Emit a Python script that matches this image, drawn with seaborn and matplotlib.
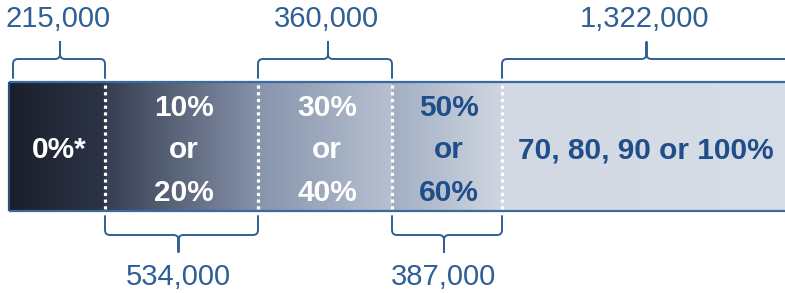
import matplotlib.pyplot as plt
import numpy as np
import seaborn as sns
from matplotlib.colors import LinearSegmentedColormap
from matplotlib.patches import PathPatch
from matplotlib.path import Path

# data
bands = ["0%*", "10%\nor\n20%", "30%\nor\n40%", "50%\nor\n60%", "70, 80, 90 or 100%"]
counts = [215000, 534000, 360000, 387000, 1322000]
count_labels = [f"{c:,}" for c in counts]

# layout (pixel units, figure is 785x293)
SEG_WIDTHS = [96, 153, 134, 110, 283]
BAR_LEFT = 9
BAR_TOP, BAR_BOTTOM = 82, 211
BRACKET_SIDE = ["top", "bottom", "top", "bottom", "top"]
SEG_COLORS = [
    ("#1b1f2b", "#2c3446"),
    ("#353e51", "#8692a9"),
    ("#8794ac", "#b6c0d0"),
    ("#a2aec2", "#cfd6e0"),
    ("#d3d9e3", "#d7dde7"),
]
TEXT_COLORS = ["white", "white", "white", "#1f4e8a", "#1f4e8a"]
BLUE = "#2f5f95"


def bracket(ax, x0, x1, xm, y_end, y_bar, y_tip, r=5):
    d = -1 if y_tip < y_bar else 1
    verts = [
        (x0, y_end), (x0, y_bar - d * r),
        (x0, y_bar), (x0 + r, y_bar),
        (xm - r, y_bar),
        (xm, y_bar), (xm, y_bar + d * r),
        (xm, y_tip),
        (xm, y_bar + d * r),
        (xm, y_bar), (xm + r, y_bar),
        (x1 - r, y_bar),
        (x1, y_bar), (x1, y_bar - d * r),
        (x1, y_end),
    ]
    codes = [Path.MOVETO, Path.LINETO,
             Path.CURVE3, Path.CURVE3,
             Path.LINETO,
             Path.CURVE3, Path.CURVE3,
             Path.LINETO,
             Path.LINETO,
             Path.CURVE3, Path.CURVE3,
             Path.LINETO,
             Path.CURVE3, Path.CURVE3,
             Path.LINETO]
    ax.add_patch(PathPatch(Path(verts, codes), fill=False, edgecolor=BLUE,
                           lw=1.4, capstyle="round", joinstyle="round"))


sns.set_theme(style="white")
plt.rcParams["font.family"] = ["Liberation Sans", "DejaVu Sans"]

fig = plt.figure(figsize=(7.85, 2.93), dpi=100)
ax = fig.add_axes([0, 0, 1, 1])

lefts = BAR_LEFT + np.concatenate([[0], np.cumsum(SEG_WIDTHS)[:-1]])
bar_y = (BAR_TOP + BAR_BOTTOM) / 2
bars = ax.barh([bar_y] * len(bands), SEG_WIDTHS, left=lefts,
               height=BAR_BOTTOM - BAR_TOP, color=[c[1] for c in SEG_COLORS],
               linewidth=0, zorder=1)

grad = np.linspace(0, 1, 256).reshape(1, -1)
for patch, (c0, c1) in zip(bars.patches, SEG_COLORS):
    x0 = patch.get_x()
    x1 = x0 + patch.get_width()
    cmap = LinearSegmentedColormap.from_list("seg", [c0, c1])
    im = ax.imshow(grad, cmap=cmap, aspect="auto", extent=(x0, x1, BAR_BOTTOM, BAR_TOP),
                   zorder=2, interpolation="bilinear")
    im.set_clip_path(patch)

ax.set_xlim(0, 785)
ax.set_ylim(293, 0)
ax.axis("off")

# frame of the bar
ax.hlines([BAR_TOP, BAR_BOTTOM], BAR_LEFT, 785, color="#3a6aa0", lw=1.6, zorder=3)
ax.vlines(BAR_LEFT, BAR_TOP, BAR_BOTTOM, color="#2a4f7a", lw=1.6, zorder=3)

# dotted separators
for x in lefts[1:]:
    ax.plot([x, x], [BAR_TOP + 3, BAR_BOTTOM - 2], color="white", lw=2.3,
            linestyle=(0, (1, 1.1)), dash_capstyle="butt", zorder=4)

for i, (label, patch) in enumerate(zip(bands, bars.patches)):
    x0 = patch.get_x()
    x1 = x0 + patch.get_width()
    xm = (x0 + x1) / 2
    ax.text(xm + 2, bar_y + 4, label, ha="center", va="center", fontsize=21.5,
            fontweight="bold", color=TEXT_COLORS[i], linespacing=1.68, zorder=5)
    bx0 = x0 + (4 if i == 0 else 0)
    bx1 = x1 + (20 if i == len(bands) - 1 else 0)
    if BRACKET_SIDE[i] == "top":
        bracket(ax, bx0, bx1, xm + 3, 78, 59, 42)
        ax.text(xm + 1, 19, count_labels[i], ha="center", va="center",
                fontsize=21, color=BLUE)
    else:
        bracket(ax, bx0, bx1, xm - 3, 216, 235, 252)
        ax.text(xm - 3, 277, count_labels[i], ha="center", va="center",
                fontsize=21, color=BLUE)

fig.savefig("out.png", dpi=100)
